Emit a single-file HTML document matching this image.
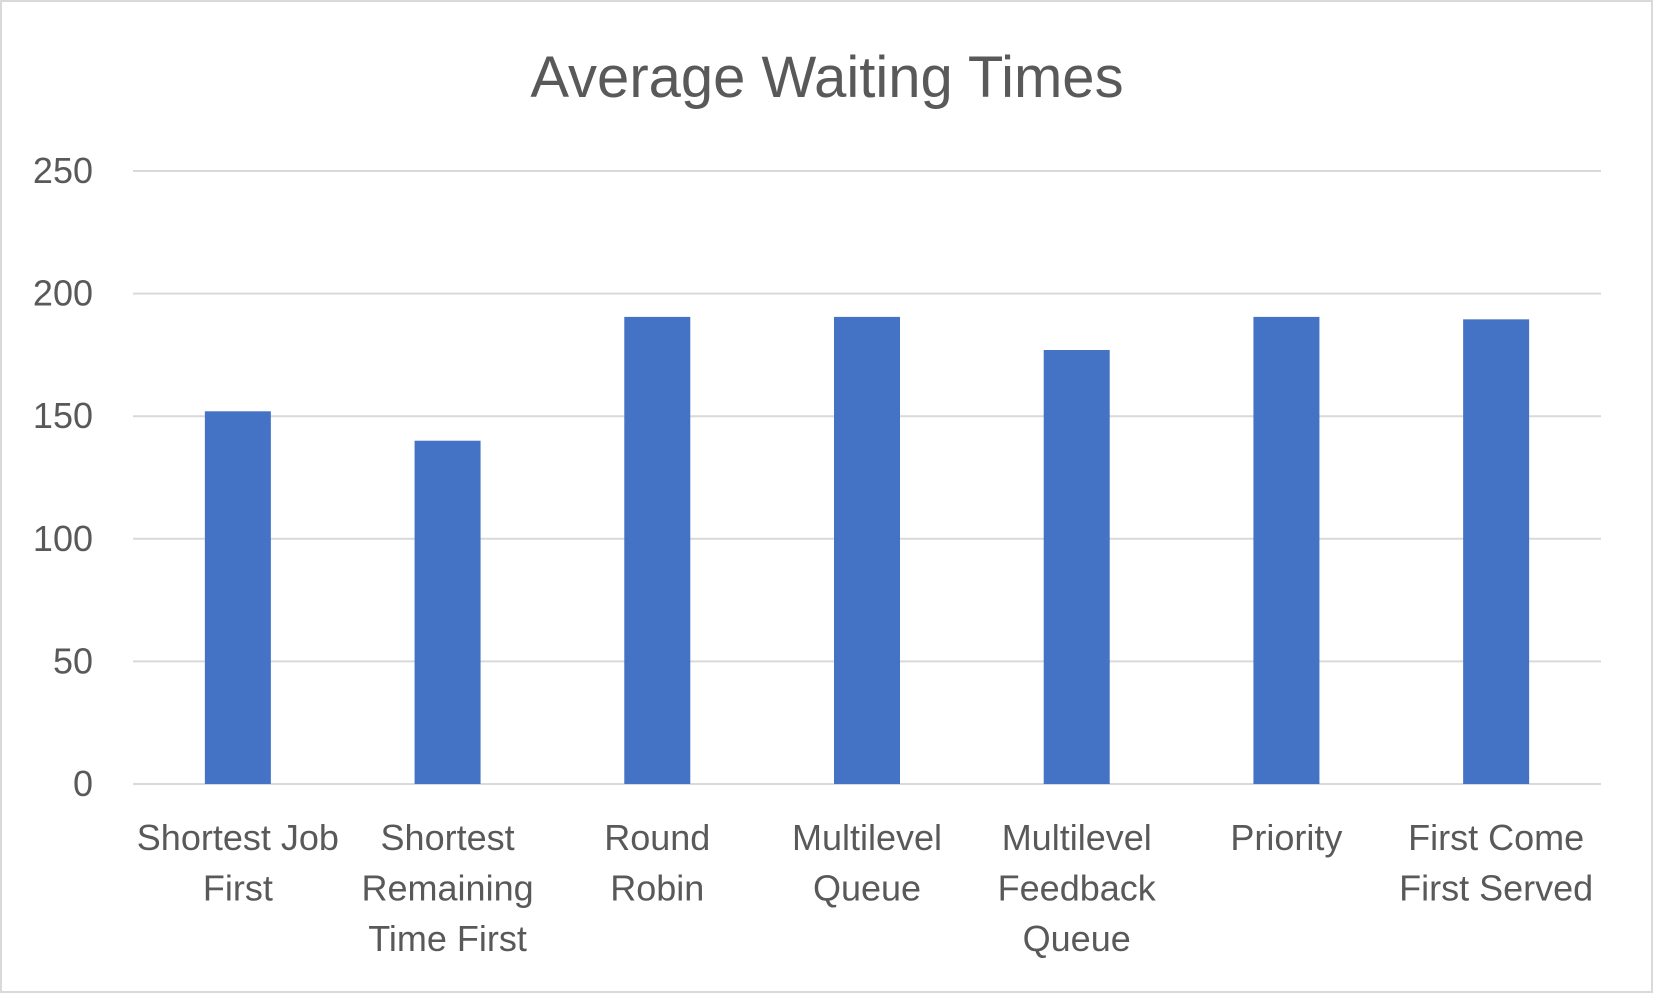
<!DOCTYPE html>
<html><head><meta charset="utf-8"><style>
html,body{margin:0;padding:0;background:#fff;}
svg{display:block;}
text{font-family:"Liberation Sans",sans-serif;fill:#595959;}
</style></head><body>
<svg id="chart" width="1653" height="993" viewBox="0 0 1653 993" xmlns="http://www.w3.org/2000/svg">
<rect x="1" y="1" width="1651" height="991" fill="#fff" stroke="#d9d9d9" stroke-width="2"/>
<text x="827" y="97" font-size="58" text-anchor="middle">Average Waiting Times</text>
<g id="grid"></g><g id="bars"></g><g id="labels"></g>
</svg>
<script>
const categories = [["Shortest Job","First"],["Shortest","Remaining","Time First"],["Round","Robin"],["Multilevel","Queue"],["Multilevel","Feedback","Queue"],["Priority"],["First Come","First Served"]];
const values = [152, 140, 190.5, 190.5, 177, 190.5, 189.5];
const ticks = [0, 50, 100, 150, 200, 250];
const NS = "http://www.w3.org/2000/svg";
const left = 133, right = 1601, y0 = 784, yTop = 171, vmax = 250;
const y = v => y0 - (v / vmax) * (y0 - yTop);
const bandW = (right - left) / categories.length;
const x = i => left + bandW * i;
const barW = 66;
const grid = document.getElementById('grid'), bars = document.getElementById('bars'), labels = document.getElementById('labels');
ticks.forEach(t => {
  const l = document.createElementNS(NS, 'line');
  
  
  l.setAttribute('x1', left); l.setAttribute('x2', right);
  l.setAttribute('y1', y(t)); l.setAttribute('y2', y(t));
  l.setAttribute('stroke', '#d9d9d9'); l.setAttribute('stroke-width', 2);
  grid.appendChild(l);
  const tx = document.createElementNS(NS, 'text');
  
  
  tx.setAttribute('x', 93); tx.setAttribute('y', y(t) + 12);
  tx.setAttribute('font-size', 36); tx.setAttribute('text-anchor', 'end');
  tx.textContent = t;
  grid.appendChild(tx);
});
values.forEach((v, i) => {
  const r = document.createElementNS(NS, 'rect');
  
  
  const cx = x(i) + bandW / 2;
  r.setAttribute('x', cx - barW / 2); r.setAttribute('width', barW);
  r.setAttribute('y', y(v)); r.setAttribute('height', y0 - y(v));
  r.setAttribute('fill', '#4472c4');
  bars.appendChild(r);
  categories[i].forEach((line, j) => {
    const tx = document.createElementNS(NS, 'text');
    
    
    tx.setAttribute('x', cx); tx.setAttribute('y', 850 + j * 50.5);
    tx.setAttribute('font-size', 36); tx.setAttribute('text-anchor', 'middle');
    tx.textContent = line;
    labels.appendChild(tx);
  });
});
</script>
</body></html>
